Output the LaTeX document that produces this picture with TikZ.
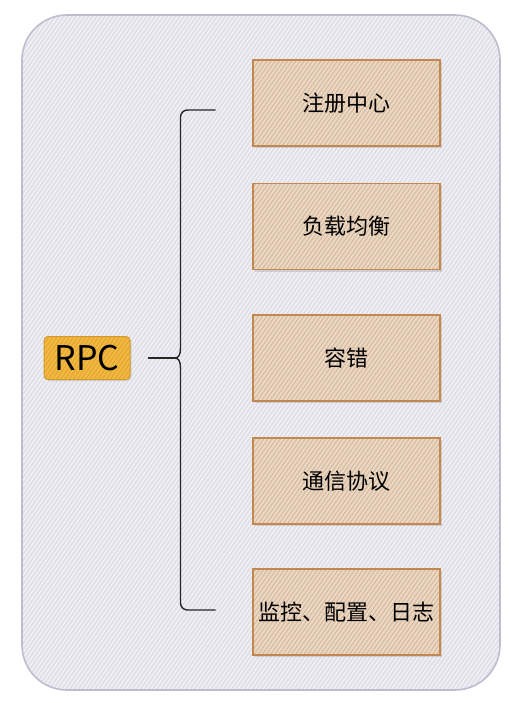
\documentclass[tikz,border=0pt]{standalone}
\usepackage{fontspec}
\setmainfont{Noto Sans CJK SC}
\usepackage{xcolor}
\usepackage{tikz}
\usetikzlibrary{calc, positioning, patterns.meta, shadows}

\definecolor{panelfill}{HTML}{E0E0E8}
\definecolor{panelline}{HTML}{F6F6F9}
\definecolor{paneldraw}{HTML}{BDBDCF}
\definecolor{itemfill}{HTML}{E9D8C8}
\definecolor{itemline}{HTML}{D9B893}
\definecolor{itemdraw}{HTML}{C28850}
\definecolor{rootfill}{HTML}{F2B941}
\definecolor{rootline}{HTML}{E3A531}
\definecolor{rootdraw}{HTML}{D19A2E}

\tikzset{
    hatch/.style 2 args={preaction={fill=#1},
        preaction={pattern={Lines[angle=55, distance=3.4pt, line width=1pt]}, pattern color=#2}},
    itembox/.style={drop shadow={opacity=0.25, shadow xshift=2pt, shadow yshift=-2pt},
        hatch={itemfill}{itemline}, draw=itemdraw, line width=1.5pt,
        minimum width=187, minimum height=86, inner sep=0pt, font=\fontsize{22}{26}\selectfont},
    rootbox/.style={drop shadow={opacity=0.2, shadow xshift=1.5pt, shadow yshift=-1.5pt},
        hatch={rootfill}{rootline}, draw=rootdraw, line width=1pt, rounded corners=4,
        minimum width=86, minimum height=43, inner sep=0pt, font=\fontsize{34}{38}\selectfont},
    brace/.style={draw=black!85, line width=1.4pt, line cap=round},
}

\begin{document}
\begin{tikzpicture}[x=1pt, y=-1pt]
    \useasboundingbox (0,0) rectangle (508,703);

    % 背景面板
    \path[hatch={panelfill}{panelline}, draw=paneldraw, line width=1.6pt, rounded corners=45]
        (22,15) rectangle (500,690);

    % 根节点
    \node[rootbox] (rpc) at (87,358) {RPC};

    % 各个模块
    \node[itembox] (reg)  at (346.5,103)   {注册中心};
    \node[itembox] (lb)   at (346.5,226.5) {负载均衡};
    \node[itembox] (ft)   at (346.5,358)   {容错};
    \node[itembox] (comm) at (346.5,481)   {通信协议};
    \node[itembox] (mon)  at (346.5,612)   {监控、配置、日志};

    % 大括号
    \coordinate (bt) at ($(reg.west)+(-37,7)$);
    \coordinate (bb) at ($(mon.west)+(-37,-2)$);
    \coordinate (bm) at ($(rpc.east)+(50,0)$);
    \coordinate (bu) at ($(bm)+(0,-10)$);
    \coordinate (bd) at ($(bm)+(0,10)$);
    \coordinate (btip) at ($(bm)+(-6,0)$);
    \coordinate (bs) at ($(rpc.east)+(18,0)$);
    \draw[brace, rounded corners=7] (bt) -| (bu);
    \draw[brace] (bu) .. controls ($(bm)+(0,-3)$) and ($(bm)+(-2,0)$) .. (btip)
        .. controls ($(bm)+(-2,0)$) and ($(bm)+(0,3)$) .. (bd);
    \draw[brace, rounded corners=7] (bd) |- (bb);
    \draw[brace] (bs) -- (btip);
\end{tikzpicture}
\end{document}
